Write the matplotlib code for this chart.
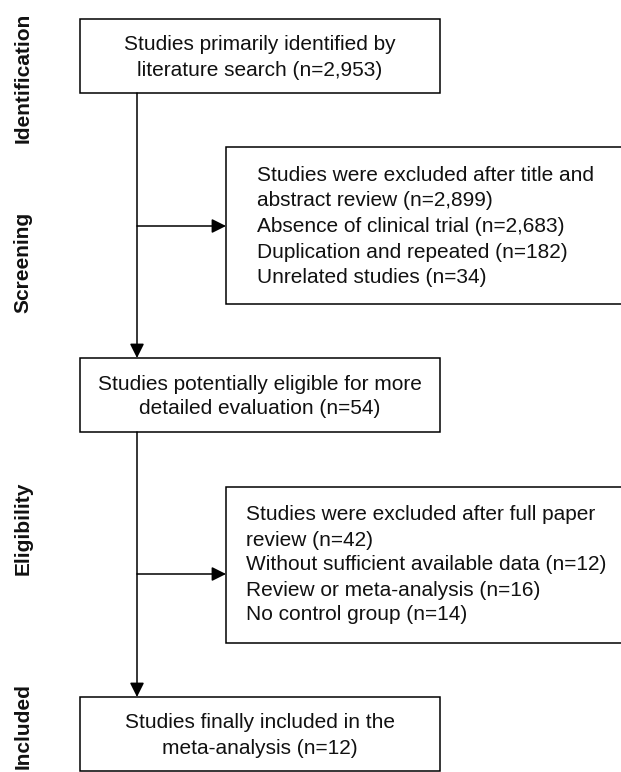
import matplotlib
matplotlib.use("Agg")
import matplotlib.pyplot as plt
from matplotlib.patches import Rectangle, FancyArrowPatch

plt.rcParams.update({
    "font.family": ["Liberation Sans", "DejaVu Sans"],
    "font.size": 15,
})

# ---- flow data ----
stage_labels = ["Identification", "Screening", "Eligibility", "Included"]
n_identified = 2953
n_excl_screen = 2899
screen_reasons = ["Absence of clinical trial", "Duplication and repeated", "Unrelated studies"]
screen_counts = [2683, 182, 34]
n_eligible = 54
n_excl_full = 42
full_reasons = ["Without sufficient available data", "Review or meta-analysis", "No control group"]
full_counts = [12, 16, 14]
n_included = 12

W, H = 621, 772
fig = plt.figure(figsize=(W / 100, H / 100), dpi=100)
ax = fig.add_axes([0, 0, 1, 1])
ax.set_xlim(0, W)
ax.set_ylim(H, 0)
ax.axis("off")

LW = 1.1

def box(x0, y0, x1, y1):
    ax.add_patch(Rectangle((x0, y0), x1 - x0, y1 - y0, facecolor="white",
                           edgecolor="black", lw=LW, clip_on=True))

def lines(xs, ys, text_lines, ha="center"):
    for y, t in zip(ys, text_lines):
        ax.text(xs, y, t, ha=ha, va="center", fontsize=15, color="#111111")

def arrow(x0, y0, x1, y1):
    ax.add_patch(FancyArrowPatch((x0, y0), (x1, y1),
                                 arrowstyle="-|>,head_length=0.86,head_width=0.43",
                                 mutation_scale=10, color="black", lw=LW,
                                 shrinkA=0, shrinkB=0))

# main column
box(80, 19, 440, 93)
lines(260, [45, 70], ["Studies primarily identified by",
                      f"literature search (n={n_identified:,})"])

box(80, 358, 440, 432)
lines(260, [384, 409], ["Studies potentially eligible for more",
                        f"detailed evaluation (n={n_eligible})"])

box(80, 697, 440, 771)
lines(260, [723, 748], ["Studies finally included in the",
                        f"meta-analysis (n={n_included})"])

# exclusion boxes (run off the right edge)
box(226, 147, 660, 304)
txt2 = ["Studies were excluded after title and",
        f"abstract review (n={n_excl_screen:,})"] + \
       [f"{r} (n={c:,})" for r, c in zip(screen_reasons, screen_counts)]
lines(257, [175.5, 201, 226.5, 252, 277.5], txt2, ha="left")

box(226, 487, 660, 643)
txt4 = ["Studies were excluded after full paper",
        f"review (n={n_excl_full})"] + \
       [f"{r} (n={c})" for r, c in zip(full_reasons, full_counts)]
lines(246, [515, 540, 565, 590, 615], txt4, ha="left")

# connectors
arrow(137, 93, 137, 358)
arrow(137, 432, 137, 697)
arrow(137, 226, 226, 226)
arrow(137, 574, 226, 574)

# stage labels
for lab, y in zip(stage_labels, [78, 262, 528, 726]):
    ax.text(23, y, lab, rotation=90, ha="center", va="center",
            fontsize=15, fontweight="bold", color="#111111")

fig.savefig("out.png", dpi=100)
